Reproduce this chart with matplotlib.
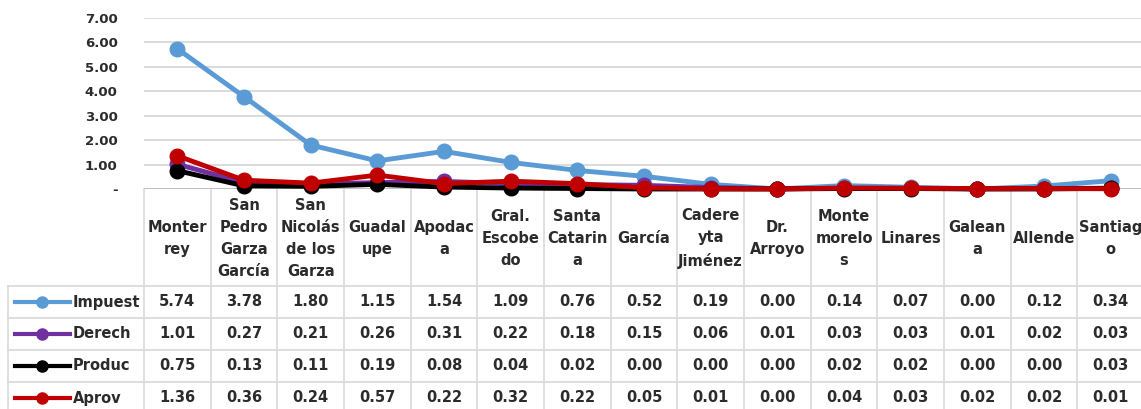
import matplotlib
matplotlib.use("Agg")
import matplotlib.pyplot as plt
from matplotlib.transforms import blended_transform_factory

categories = ["Monter\nrey", "San\nPedro\nGarza\nGarcía", "San\nNicolás\nde los\nGarza",
              "Guadal\nupe", "Apodac\na", "Gral.\nEscobe\ndo", "Santa\nCatarin\na", "García",
              "Cadere\nyta\nJiménez", "Dr.\nArroyo", "Monte\nmorelo\ns", "Linares",
              "Galean\na", "Allende", "Santiag\no"]
series_names = ["Impuest", "Derech", "Produc", "Aprov"]
impuest = [5.74, 3.78, 1.80, 1.15, 1.54, 1.09, 0.76, 0.52, 0.19, 0.00, 0.14, 0.07, 0.00, 0.12, 0.34]
derech = [1.01, 0.27, 0.21, 0.26, 0.31, 0.22, 0.18, 0.15, 0.06, 0.01, 0.03, 0.03, 0.01, 0.02, 0.03]
produc = [0.75, 0.13, 0.11, 0.19, 0.08, 0.04, 0.02, 0.00, 0.00, 0.00, 0.02, 0.02, 0.00, 0.00, 0.03]
aprov = [1.36, 0.36, 0.24, 0.57, 0.22, 0.32, 0.22, 0.05, 0.01, 0.00, 0.04, 0.03, 0.02, 0.02, 0.01]
yticks = [0, 1, 2, 3, 4, 5, 6, 7]
ytick_labels = ["-", "1.00", "2.00", "3.00", "4.00", "5.00", "6.00", "7.00"]

series = [impuest, derech, produc, aprov]
colors = ["#5B9BD5", "#7030A0", "#000000", "#C00000"]

W, H = 1141, 409
fig = plt.figure(figsize=(W / 100, H / 100), dpi=100)
FONT = "DejaVu Sans"
TXT = "#2b2b2b"
GRID = "#d9d9d9"

# table axes in pixel coordinates
tax = fig.add_axes([0, 0, 1, 1], zorder=0)
tax.set_xlim(0, W)
tax.set_ylim(H, 0)
tax.axis("off")

ax = fig.add_axes([144 / W, 1 - 189 / H, 1000 / W, (189 - 18) / H], zorder=2)
ax.set_facecolor("none")
n = len(categories)
x = list(range(n))
for vals, c in zip(series, colors):
    ax.plot(x, vals, color=c, lw=3.5, marker="o", ms=10.5, clip_on=False, zorder=3)
ax.set_xlim(-0.5, n - 0.5)
ax.set_ylim(0, 7)
ax.set_yticks(yticks)
ax.set_yticklabels(ytick_labels, fontfamily=FONT, fontweight="bold", fontsize=9.5, color=TXT)
ax.set_xticks([])
ax.tick_params(axis="y", length=0, pad=19)
for s in ax.spines.values():
    s.set_visible(False)
ax.yaxis.grid(True, color=GRID, lw=1.3)
ax.set_axisbelow(True)
ax.axhline(0, color="#bfbfbf", lw=1.3, zorder=1)

# table
bt = blended_transform_factory(ax.transData, tax.transData)
top, head_bot, row_h = 189, 286, 32
for i in range(n + 1):
    tax.plot([i - 0.5, i - 0.5], [top, H], color=GRID, lw=1.2, transform=bt)
for r in range(4):
    yy = head_bot + r * row_h
    tax.plot([8, W], [yy, yy], color=GRID, lw=1.2)
tax.plot([8, 8], [head_bot, H], color=GRID, lw=1.2)

for i, cat in enumerate(categories):
    tax.text(i, (top + head_bot) / 2 + 1, cat, transform=bt, ha="center", va="center",
             multialignment="center", fontfamily=FONT, fontweight="bold", fontsize=10.5,
             color=TXT, linespacing=1.6)

for r, (name, vals, c) in enumerate(zip(series_names, series, colors)):
    yc = head_bot + r * row_h + row_h / 2
    tax.plot([15, 70], [yc, yc], color=c, lw=3)
    tax.plot([42], [yc], marker="o", ms=8, color=c)
    tax.text(73, yc, name, ha="left", va="center", fontfamily=FONT, fontweight="bold",
             fontsize=10.5, color=TXT)
    for i, v in enumerate(vals):
        tax.text(i, yc, f"{v:.2f}", transform=bt, ha="center", va="center",
                 fontfamily=FONT, fontweight="bold", fontsize=10.5, color=TXT)

fig.savefig("out.png", dpi=100, facecolor="white")
